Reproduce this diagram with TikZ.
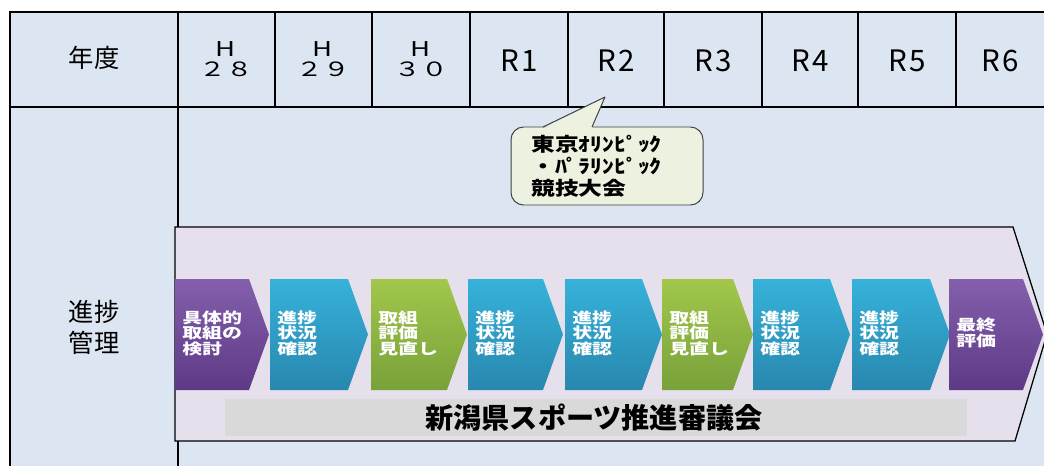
\documentclass[tikz,border=0pt]{standalone}
\usepackage{fontspec}
\setmainfont{Noto Sans CJK JP}
\newfontfamily\widefont[FakeStretch=1.35]{Noto Sans CJK JP}
\newfontfamily\calloutfont[FakeStretch=1.25]{Noto Sans CJK JP}
\usepackage{tikz}
\usetikzlibrary{positioning}
\tikzset{grid/.style = {line width=0.9pt, black}}
\tikzset{hd/.style = {font=\fontsize{18}{22}\selectfont, align=center, inner sep=0}}
\tikzset{yr/.style = {font=\fontsize{21}{24}\selectfont, inner sep=0}}
\tikzset{hy/.style = {font=\widefont\fontsize{14}{14.5}\selectfont, align=center, inner sep=0}}
\tikzset{stagetxt/.style = {font=\widefont\bfseries\fontsize{10.5}{11}\selectfont, text=white, align=left, anchor=west, inner sep=0}}
\newcommand{\bigH}{{\fontsize{14.5}{14.5}\selectfont H}}
\definecolor{tblue}{HTML}{DCE6F2}
\definecolor{lav}{HTML}{E6E0EC}
\definecolor{cfill}{HTML}{EDF1DF}
\definecolor{barg}{HTML}{D9D9D9}
\definecolor{purT}{HTML}{8460AC}
\definecolor{purB}{HTML}{5E3A86}
\definecolor{bluT}{HTML}{36B2DA}
\definecolor{bluB}{HTML}{2887AE}
\definecolor{grnT}{HTML}{A2C74B}
\definecolor{grnB}{HTML}{78A13A}
\begin{document}
\begin{tikzpicture}[x=0.025cm, y=-0.025cm]
\useasboundingbox[clip] (0,0) rectangle (1044,466);
\fill[white] (0,0) rectangle (1044,466);
\fill[tblue] (10,12) rectangle (1060,480);
% table lines
\draw[grid] (1060,12) -- (10,12) -- (10,480);
\draw[grid] (10,107) -- (1060,107);
\foreach \x in {275,372,470,568,664,762,858,956}
  \draw[grid] (\x,12) -- (\x,107);
\draw[grid] (178,12) -- (178,480);
% header
\node[hd] (nendo) at (94,58) {年度};
\node[hy] (h28) at (226,59) {\bigH\\２８};
\node[hy] (h29) at (323,59) {\bigH\\２９};
\node[hy] (h30) at (421,59) {\bigH\\３０};
\foreach \x/\n in {519/1,616/2,713/3,810/4,907/5,1000/6}
  \node[yr] (r\n) at (\x,61) {R\kern2pt\n};
\node[hd] (shinchoku) at (94,327) {進捗\\管理};
% callout
\node[draw=black!75, fill=cfill, rounded corners=9pt, minimum width=192*0.025cm,
      minimum height=78*0.025cm, line width=0.7pt] (olym) at (607,166) {};
\coordinate (tip) at (605,97);
\coordinate (pl) at (543,127);
\coordinate (pr) at (592,127);
\fill[cfill] (543,128.5) -- (tip) -- (592,128.5) -- cycle;
\draw[black!75, line width=0.7pt, line join=round] (pl) -- (tip) -- (pr);
\node[font=\calloutfont\bfseries\fontsize{13.5}{15.5}\selectfont, align=left, anchor=west, inner sep=0]
  (olymtxt) at (531,166) {東京ｵﾘﾝﾋﾟｯｸ\\・ﾊﾟﾗﾘﾝﾋﾟｯｸ\\競技大会};
% big arrow
\draw[fill=lav, line width=0.9pt, line join=miter] (175,227) -- (1013,227) -- (1047,334)
  -- (1015,441) -- (175,441) -- cycle;
% council bar
\fill[barg] (225,399) rectangle (967,436);
\node[font=\bfseries\fontsize{20}{22}\selectfont, inner sep=0] (council) at (594,418)
  {新潟県スポーツ推進審議会};
% stages
\foreach \l/\t/\c/\txt [count=\i] in {
    175/269/pur/{具体的\\取組の\\検討},
    270/368/blu/{進捗\\状況\\確認},
    371/467/grn/{取組\\評価\\見直し},
    468/563/blu/{進捗\\状況\\確認},
    565/662/blu/{進捗\\状況\\確認},
    662/753/grn/{取組\\評価\\見直し},
    753/850/blu/{進捗\\状況\\確認},
    852/950/blu/{進捗\\状況\\確認},
    949/1043/pur/{最終\\評価}}{
  \shade[top color=\c T, bottom color=\c B] (\l,279) -- (\t-20,279) -- (\t,334.5)
    -- (\t-20,390) -- (\l,390) -- cycle;
  \node[stagetxt] (st\i) at (\l+7,333) {\txt};
}
\end{tikzpicture}
\end{document}
